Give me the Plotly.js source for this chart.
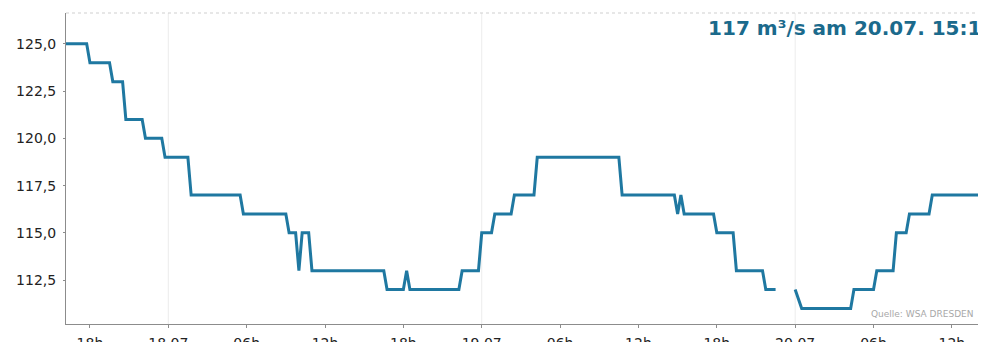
<!DOCTYPE html>
<html>
<head>
<meta charset="utf-8">
<script src="https://cdn.plot.ly/plotly-3.0.1.min.js"></script>
<style>
  html, body { margin: 0; padding: 0; background: #ffffff; overflow: hidden; }
  #chart { width: 995px; height: 342px; }
</style>
</head>
<body>
<div id="chart"></div>
<script>
// Abfluss (m³/s), 15-Minuten-Werte, 17.07. – 20.07.
const times = [
  '2022-07-17 16:00', '2022-07-17 17:45', '2022-07-17 18:00', '2022-07-17 19:30',
  '2022-07-17 19:45', '2022-07-17 20:30', '2022-07-17 20:45', '2022-07-17 22:00',
  '2022-07-17 22:15', '2022-07-17 23:30', '2022-07-17 23:45',
  '2022-07-18 01:30', '2022-07-18 01:45', '2022-07-18 05:30', '2022-07-18 05:45',
  '2022-07-18 09:00', '2022-07-18 09:15', '2022-07-18 09:45', '2022-07-18 10:00',
  '2022-07-18 10:15', '2022-07-18 10:45', '2022-07-18 11:00', '2022-07-18 16:30',
  '2022-07-18 16:45', '2022-07-18 18:00', '2022-07-18 18:15', '2022-07-18 18:30',
  '2022-07-18 22:15', '2022-07-18 22:30', '2022-07-18 23:45',
  '2022-07-19 00:00', '2022-07-19 00:45', '2022-07-19 01:00', '2022-07-19 02:15',
  '2022-07-19 02:30', '2022-07-19 04:00', '2022-07-19 04:15', '2022-07-19 10:30',
  '2022-07-19 10:45', '2022-07-19 14:45', '2022-07-19 15:00', '2022-07-19 15:15',
  '2022-07-19 15:30', '2022-07-19 17:45', '2022-07-19 18:00', '2022-07-19 19:15',
  '2022-07-19 19:30', '2022-07-19 21:30', '2022-07-19 21:45', '2022-07-19 22:30',
  '2022-07-19 22:45',
  '2022-07-20 00:00', '2022-07-20 00:30', '2022-07-20 04:15', '2022-07-20 04:30',
  '2022-07-20 06:00', '2022-07-20 06:15', '2022-07-20 07:30', '2022-07-20 07:45',
  '2022-07-20 08:30', '2022-07-20 08:45', '2022-07-20 10:15', '2022-07-20 10:30',
  '2022-07-20 14:00'
];
const flow = [
  125, 125, 124, 124,
  123, 123, 121, 121,
  120, 120, 119,
  119, 117, 117, 116,
  116, 115, 115, 113,
  115, 115, 113, 113,
  112, 112, 113, 112,
  112, 113, 113,
  115, 115, 116, 116,
  117, 117, 119, 119,
  117, 117, 116, 117,
  116, 116, 115, 115,
  113, 113, 112, 112,
  null,
  112, 111, 111, 112,
  112, 113, 113, 115,
  115, 116, 116, 117,
  117
];

// Achsenbeschriftung
const tickTimes = [
  '2022-07-17 18:00', '2022-07-18 00:00', '2022-07-18 06:00', '2022-07-18 12:00',
  '2022-07-18 18:00', '2022-07-19 00:00', '2022-07-19 06:00', '2022-07-19 12:00',
  '2022-07-19 18:00', '2022-07-20 00:00', '2022-07-20 06:00', '2022-07-20 12:00'
];
const tickLabels = ['18h', '18.07', '06h', '12h', '18h', '19.07', '06h', '12h', '18h', '20.07', '06h', '12h'];
const dayStarts = ['2022-07-18 00:00', '2022-07-19 00:00', '2022-07-20 00:00'];
const yTicks = [112.5, 115, 117.5, 120, 122.5, 125];

const currentText = '117 m³/s am 20.07. 15:15';
const sourceText = 'Quelle: WSA DRESDEN';

const lineColor = '#1f78a1';
const textColor = '#1b6a8c';

const traces = [
  {
    type: 'scatter', mode: 'lines',
    x: times, y: flow,
    connectgaps: false,
    line: { color: lineColor, width: 3, shape: 'linear' },
    hoverinfo: 'skip'
  },
  {
    // aktueller Wert, wird am Rand des Diagramms abgeschnitten
    type: 'scatter', mode: 'text',
    x: ['2022-07-19 17:20'], y: [125.75],
    text: [currentText],
    textposition: 'middle right',
    cliponaxis: true,
    textfont: { family: 'DejaVu Sans', size: 20, color: textColor, weight: 'bold' },
    hoverinfo: 'skip'
  }
];

const layout = {
  width: 995, height: 342,
  margin: { l: 66, r: 17, t: 13, b: 18 },
  paper_bgcolor: '#ffffff', plot_bgcolor: '#ffffff',
  showlegend: false,
  separators: ',.',
  font: { family: 'DejaVu Sans', size: 14, color: '#222222' },
  xaxis: {
    type: 'date',
    range: ['2022-07-17 16:10', '2022-07-20 14:00'],
    tickmode: 'array', tickvals: tickTimes, ticktext: tickLabels,
    showgrid: false, zeroline: false,
    showline: true, linecolor: '#8c8c8c', linewidth: 1,
    ticks: 'outside', ticklen: 3, tickcolor: '#8c8c8c',
    ticklabelstandoff: 3,
    tickfont: { family: 'DejaVu Sans', size: 14, color: '#222222' }
  },
  yaxis: {
    range: [110.18, 126.63],
    tickmode: 'array', tickvals: yTicks,
    tickformat: '.1f',
    showgrid: false, zeroline: false,
    showline: true, linecolor: '#8c8c8c', linewidth: 1,
    ticks: 'outside', ticklen: 2, tickcolor: '#8c8c8c',
    ticklabelstandoff: 4,
    tickfont: { family: 'DejaVu Sans', size: 14, color: '#222222' }
  },
  shapes: [
    { type: 'line', xref: 'paper', yref: 'paper', x0: 0, x1: 1, y0: 1, y1: 1,
      line: { color: '#cfcfcf', width: 1, dash: 'dot' } }
  ].concat(dayStarts.map(d => ({
    type: 'line', xref: 'x', yref: 'paper', x0: d, x1: d, y0: 0, y1: 1,
    line: { color: '#ececec', width: 1 }, layer: 'below'
  }))),
  annotations: [
    { xref: 'paper', yref: 'paper', x: 0.998, y: 0.01, xanchor: 'right', yanchor: 'bottom',
      text: sourceText, showarrow: false,
      font: { family: 'DejaVu Sans', size: 9, color: '#a8a8a8' } }
  ]
};

Plotly.newPlot('chart', traces, layout, { staticPlot: true, displayModeBar: false });
</script>
</body>
</html>
